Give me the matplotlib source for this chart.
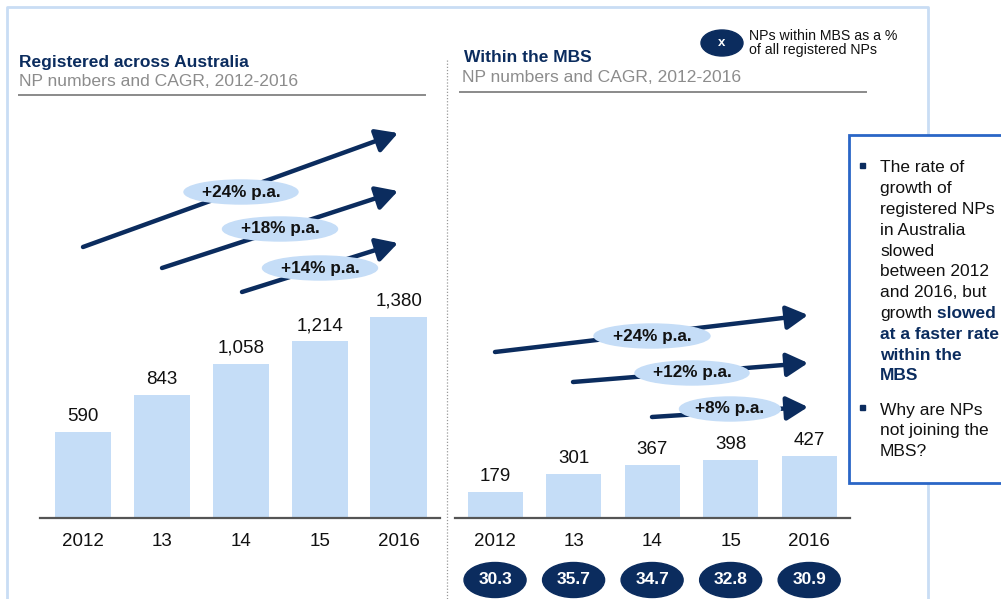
import matplotlib
matplotlib.use("Agg")
import matplotlib.pyplot as plt
from matplotlib.patches import Ellipse, Rectangle, FancyArrowPatch

plt.rcParams['font.family'] = ['Liberation Sans', 'DejaVu Sans']

# ---------------- data ----------------
years = ['2012', '13', '14', '15', '2016']
registered = [590, 843, 1058, 1214, 1380]
within_mbs = [179, 301, 367, 398, 427]
mbs_share_pct = [30.3, 35.7, 34.7, 32.8, 30.9]
cagr_registered = ['+24% p.a.', '+18% p.a.', '+14% p.a.']
cagr_mbs = ['+24% p.a.', '+12% p.a.', '+8% p.a.']

NAVY = '#0B2C5E'
BAR = '#C5DDF7'
GRAY = '#8C8C8C'
FRAME = '#C9DDF4'
BOXBLUE = '#2A66C6'

W, H = 1001, 599
fig = plt.figure(figsize=(W / 100, H / 100), dpi=100)

def rect(x0, y0, x1, y1):
    # pixel box (top-left origin) -> figure fraction
    return [x0 / W, 1 - y1 / H, (x1 - x0) / W, (y1 - y0) / H]

PX_PER_UNIT = 0.1457
BASE = 518
TOP = 100
YMAX = (BASE - TOP) / PX_PER_UNIT

def bar_panel(pos, values, xl, width):
    ax = fig.add_axes(pos)
    x = list(range(len(values)))
    ax.bar(x, values, width=width, color=BAR, zorder=2)
    for xi, v in zip(x, values):
        ax.annotate(f"{v:,}", (xi, v), xytext=(0, 5), textcoords='offset points',
                    ha='center', va='bottom', fontsize=13.5, color='#111111')
    ax.set_xlim(*xl)
    ax.set_ylim(0, YMAX)
    ax.set_xticks(x)
    ax.set_xticklabels(years, fontsize=13.5, color='#111111')
    ax.tick_params(axis='x', length=0, pad=11)
    ax.set_yticks([])
    for s in ['left', 'right', 'top']:
        ax.spines[s].set_visible(False)
    ax.spines['bottom'].set_color('#555555')
    ax.spines['bottom'].set_linewidth(1.6)
    ax.patch.set_alpha(0)
    return ax

axL = bar_panel(rect(40, TOP, 440, BASE), registered, (-0.544, 4.52), 0.72)
axR = bar_panel(rect(455, TOP, 850, BASE), within_mbs, (-0.51, 4.52), 0.70)

# share ovals under right panel
oy = -(580 - BASE) / PX_PER_UNIT
for i, p in enumerate(mbs_share_pct):
    axR.add_patch(Ellipse((i, oy), 0.79, 35 / PX_PER_UNIT, color=NAVY, clip_on=False, zorder=3))
    axR.text(i, oy, f"{p:.1f}", ha='center', va='center', color='white',
             fontsize=12.5, fontweight='bold', clip_on=False, zorder=4)

# ---------------- overlay (pixel coordinates) ----------------
ov = fig.add_axes([0, 0, 1, 1], zorder=5)
ov.set_xlim(0, W)
ov.set_ylim(H, 0)
ov.axis('off')

# outer frame
ov.plot([7, 7, 928, 928], [H + 5, 7, 7, H + 5], color=FRAME, lw=2)

# separator
ov.plot([447, 447], [60, H], color='#999999', lw=0.9, ls=(0, (1, 1.5)))

# titles
ov.text(19, 62, 'Registered across Australia', fontsize=12.5, fontweight='bold',
        color=NAVY, va='center', ha='left')
ov.text(19, 82, 'NP numbers and CAGR, 2012-2016', fontsize=12.6, color=GRAY,
        va='center', ha='left')
ov.plot([19, 425], [95, 95], color='#8A8A8A', lw=1.4)

ov.text(464, 58, 'Within the MBS', fontsize=12.5, fontweight='bold',
        color=NAVY, va='center', ha='left')
ov.text(462, 78, 'NP numbers and CAGR, 2012-2016', fontsize=12.6, color=GRAY,
        va='center', ha='left')
ov.plot([460, 866], [92, 92], color='#8A8A8A', lw=1.4)

# legend
ov.add_patch(Ellipse((722, 43), 42, 26, color=NAVY))
ov.text(722, 43, 'x', color='white', fontsize=9.5, fontweight='bold', ha='center', va='center')
ov.text(749, 43, 'NPs within MBS as a %\nof all registered NPs', fontsize=10.2,
        color='#111111', ha='left', va='center', linespacing=1.0)

# CAGR arrows
def cagr_arrow(start, end, label, center, ow):
    ov.add_patch(FancyArrowPatch(start, end, arrowstyle='-|>,head_length=0.65,head_width=0.36',
                                 mutation_scale=20, color=NAVY, lw=3.2,
                                 shrinkA=0, shrinkB=0, zorder=2))
    ov.add_patch(Ellipse(center, ow, 24, color=BAR, zorder=3))
    ov.text(center[0], center[1], label, fontsize=12.3, fontweight='bold', color='#111111',
            ha='center', va='center', zorder=4)

left_arrows = [((83, 247), (398, 133), (241, 192), 114),
               ((162, 268), (398, 191), (280, 229), 115),
               ((242, 292), (398, 243), (320, 268), 115)]
for (s, e, c, w), lab in zip(left_arrows, cagr_registered):
    cagr_arrow(s, e, lab, c, w)

right_arrows = [((495, 352), (808, 315), (652, 336), 116),
                ((573, 382), (808, 363), (692, 373), 114),
                ((652, 417), (808, 407), (730, 409), 101)]
for (s, e, c, w), lab in zip(right_arrows, cagr_mbs):
    cagr_arrow(s, e, lab, c, w)

# text box
ov.add_patch(Rectangle((849, 135), 170, 348, facecolor='white', edgecolor=BOXBLUE,
                       lw=2, zorder=6))
lines1 = ['The rate of', 'growth of', 'registered NPs', 'in Australia', 'slowed',
          'between 2012', 'and 2016, but']
bold_lines = ['at a faster rate', 'within the', 'MBS']
lines2 = ['Why are NPs', 'not joining the', 'MBS?']
LS = 20.8
y0 = 168
tx = 880
kw = dict(fontsize=12.5, ha='left', va='center', zorder=7)
for i, t in enumerate(lines1):
    ov.text(tx, y0 + i * LS, t, color='#111111', **kw)
yg = y0 + len(lines1) * LS
tg = ov.text(tx, yg, 'growth', color='#111111', **kw)
ov.annotate(' slowed', xy=(1, 0.5), xycoords=tg, color=NAVY, fontweight='bold',
            fontsize=12.5, ha='left', va='center', zorder=7)
for i, t in enumerate(bold_lines):
    ov.text(tx, yg + (i + 1) * LS, t, color=NAVY, fontweight='bold', **kw)
y2 = 410
for i, t in enumerate(lines2):
    ov.text(tx, y2 + i * LS, t, color='#111111', **kw)
for by in (y0, y2):
    ov.add_patch(Rectangle((860, by - 5), 4.5, 4.5, color=NAVY, zorder=7))

fig.savefig('out.png', dpi=100)
